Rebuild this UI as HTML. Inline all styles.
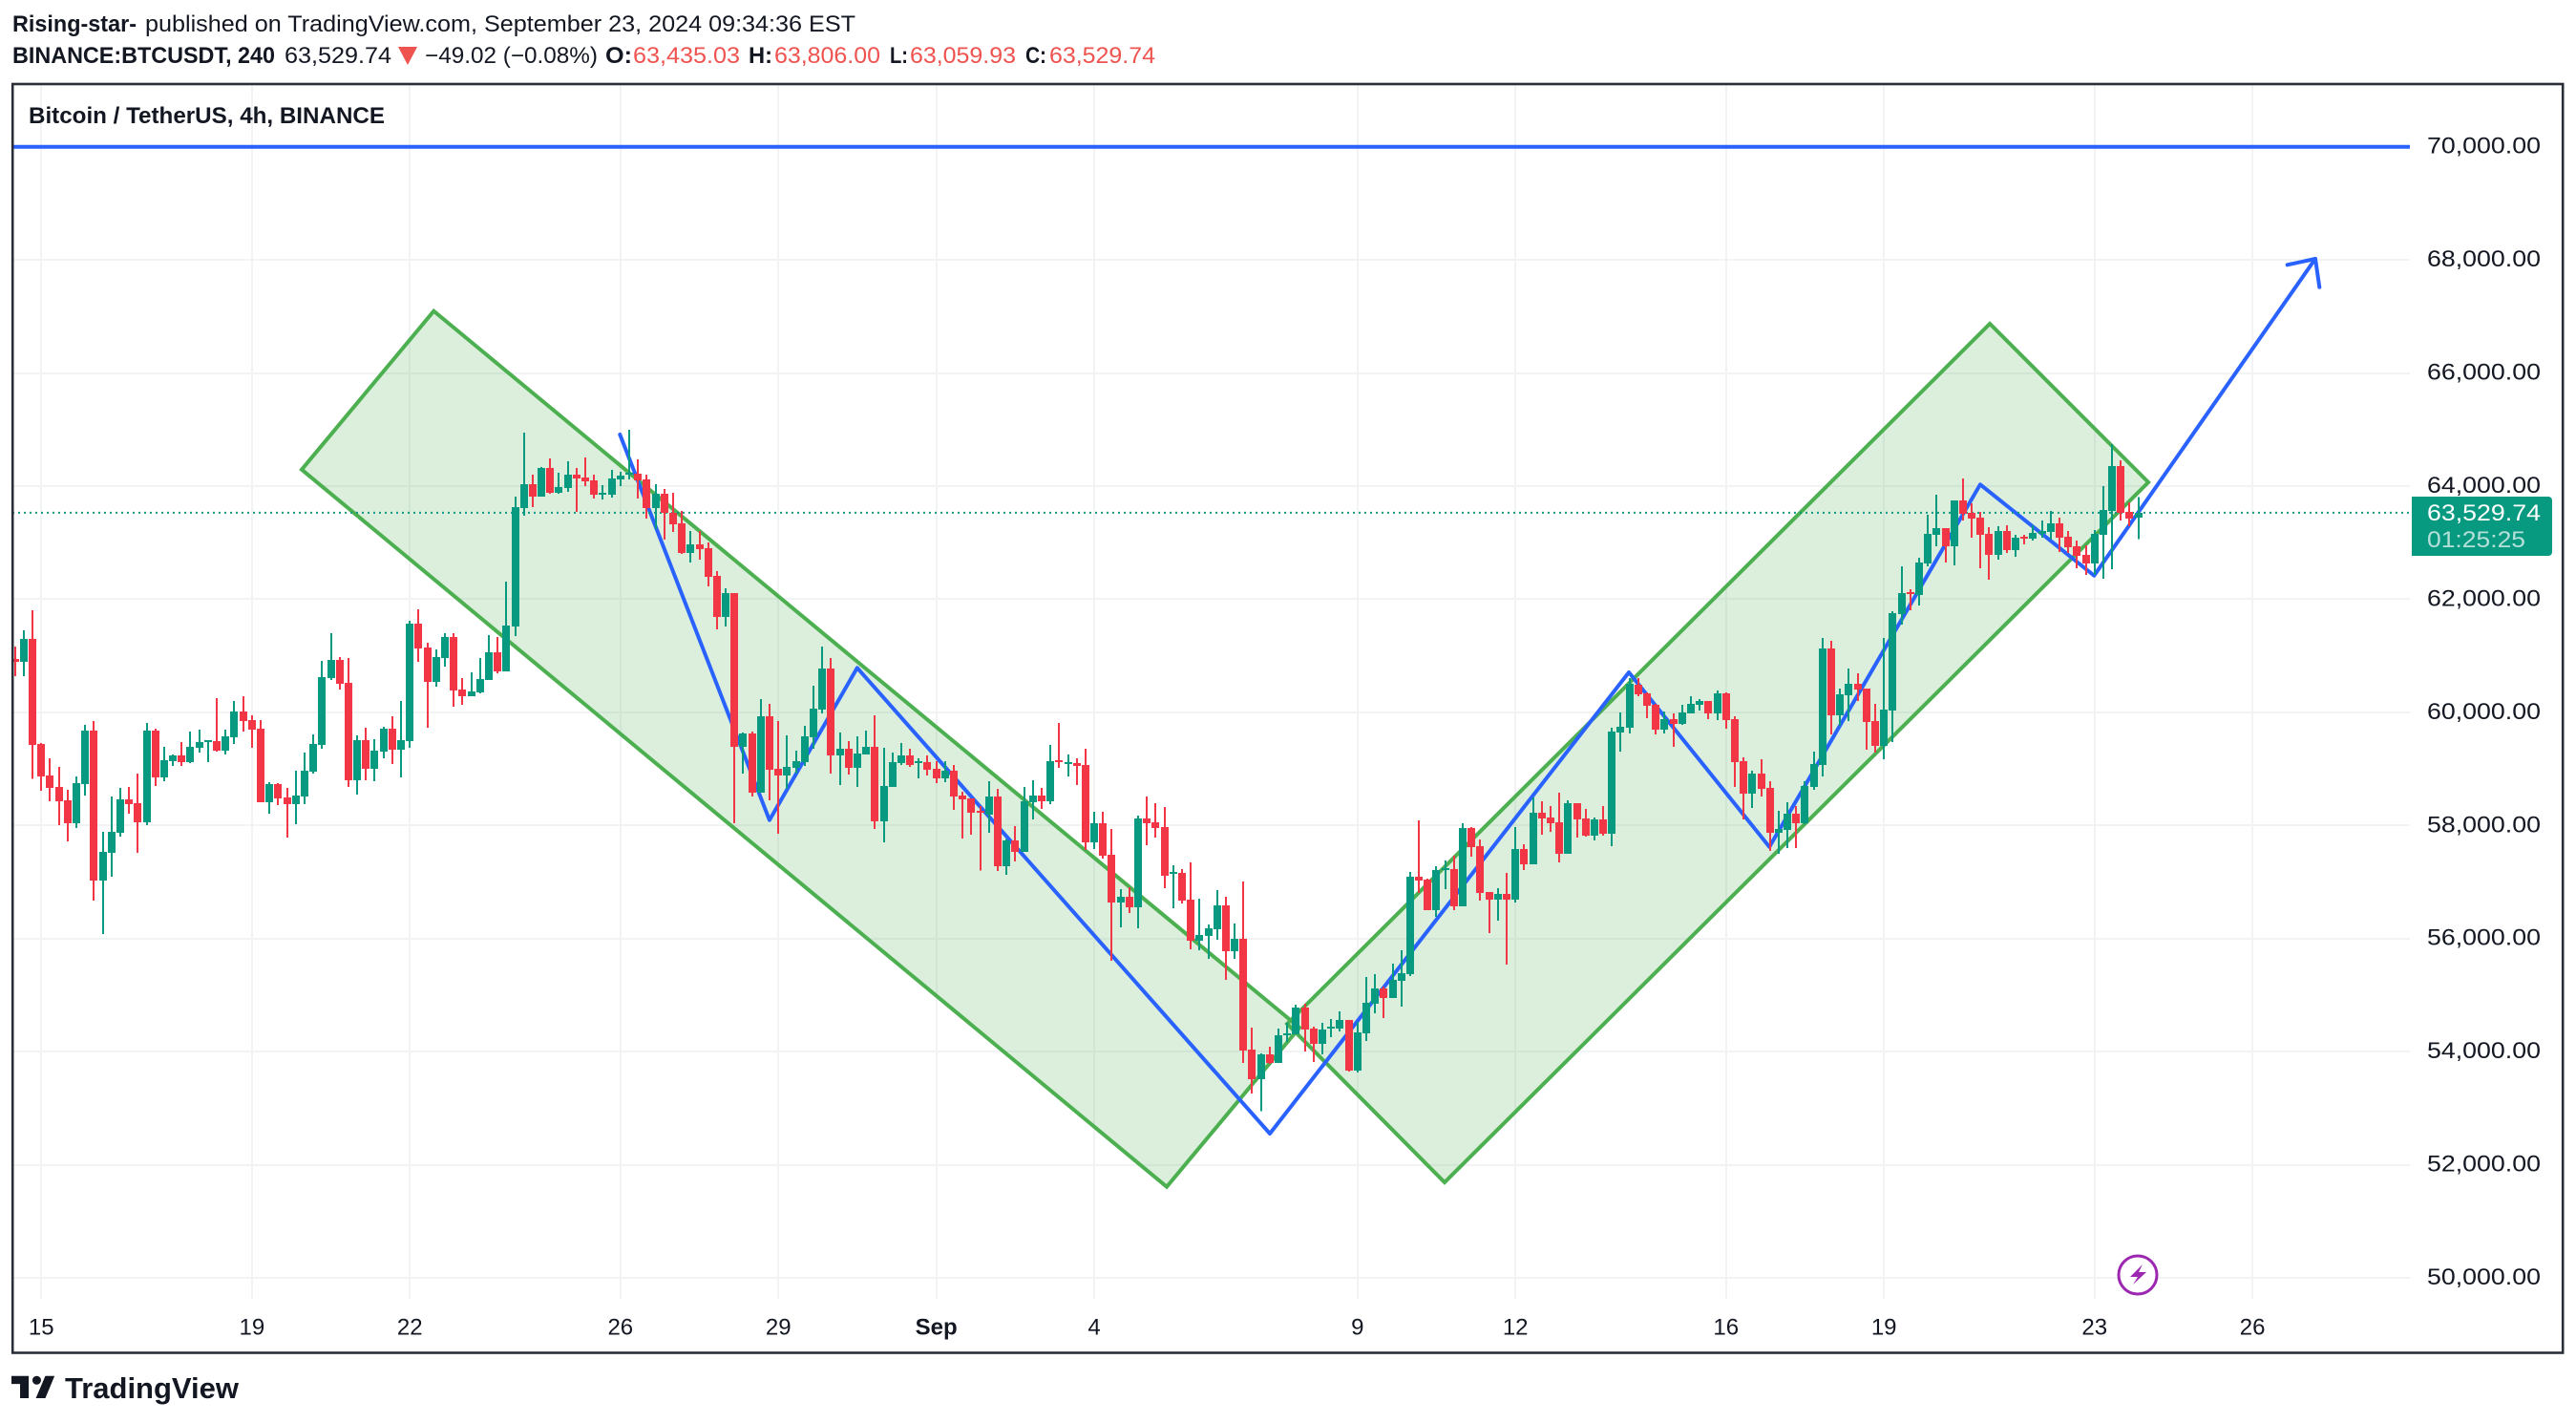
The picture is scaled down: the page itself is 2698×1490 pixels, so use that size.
<!DOCTYPE html>
<html lang="en">
<head>
<meta charset="utf-8">
<title>BTCUSDT 4h chart</title>
<style>
html,body{margin:0;padding:0;background:#fff;}
svg{display:block;}
text{font-family:"Liberation Sans",Arial,sans-serif;}
</style>
</head>
<body>
<svg id="chart" xmlns="http://www.w3.org/2000/svg" width="2698" height="1490" viewBox="0 0 2698 1490">
  <rect x="0" y="0" width="2698" height="1490" fill="#ffffff"/>
  <g font-size="24" fill="#131722">
    <text x="13" y="33" font-weight="bold" textLength="130" lengthAdjust="spacingAndGlyphs">Rising-star-</text>
    <text x="152" y="33" textLength="744" lengthAdjust="spacingAndGlyphs">published on TradingView.com, September 23, 2024 09:34:36 EST</text>
    <text x="13" y="66" font-weight="bold" textLength="275" lengthAdjust="spacingAndGlyphs">BINANCE:BTCUSDT, 240</text>
    <text x="298" y="66" textLength="112" lengthAdjust="spacingAndGlyphs">63,529.74</text>
    <polygon points="417,49 437,49 427,68" fill="#EF5350"/>
    <text x="445" y="66" textLength="181" lengthAdjust="spacingAndGlyphs">−49.02 (−0.08%)</text>
    <text x="634" y="66" font-weight="bold" textLength="28" lengthAdjust="spacingAndGlyphs">O:</text>
    <text x="663" y="66" fill="#EF5350" textLength="112" lengthAdjust="spacingAndGlyphs">63,435.03</text>
    <text x="784" y="66" font-weight="bold" textLength="25" lengthAdjust="spacingAndGlyphs">H:</text>
    <text x="811" y="66" fill="#EF5350" textLength="111" lengthAdjust="spacingAndGlyphs">63,806.00</text>
    <text x="932" y="66" font-weight="bold" textLength="19" lengthAdjust="spacingAndGlyphs">L:</text>
    <text x="953" y="66" fill="#EF5350" textLength="111" lengthAdjust="spacingAndGlyphs">63,059.93</text>
    <text x="1074" y="66" font-weight="bold" textLength="22" lengthAdjust="spacingAndGlyphs">C:</text>
    <text x="1099" y="66" fill="#EF5350" textLength="111" lengthAdjust="spacingAndGlyphs">63,529.74</text>
  </g>
  <defs>
    <clipPath id="pane-clip"><rect x="13" y="88" width="2511" height="1272"/></clipPath>
  </defs>
  <g id="grid" shape-rendering="crispEdges"></g>
  <g id="drawings" clip-path="url(#pane-clip)"></g>
  <g id="candles" clip-path="url(#pane-clip)" shape-rendering="crispEdges"></g>
  <g id="x-axis" font-size="24" fill="#131722" text-anchor="middle"></g>
  <g id="y-axis" font-size="24" fill="#131722"></g>
  <path id="price-tag" d="M2526 520H2669a4 4 0 0 1 4 4V578a4 4 0 0 1 -4 4H2526Z" fill="#089981"/>
  <text x="2542" y="545" font-size="24" fill="#ffffff" textLength="119" lengthAdjust="spacingAndGlyphs">63,529.74</text>
  <text x="2542" y="573" font-size="24" fill="#b5e0d9" textLength="103" lengthAdjust="spacingAndGlyphs">01:25:25</text>
  <text x="30" y="129" font-size="24" font-weight="bold" fill="#131722" textLength="373" lengthAdjust="spacingAndGlyphs">Bitcoin / TetherUS, 4h, BINANCE</text>
  <g>
    <ellipse cx="2239" cy="1335" rx="20" ry="20" fill="#ffffff" stroke="#9C27B0" stroke-width="3"/>
    <polygon points="2244,1324 2231,1337 2239,1337 2234,1345 2248,1332 2240,1332" fill="#9C27B0"/>
  </g>
  <rect x="13.2" y="88" width="2671" height="1328.5" fill="none" stroke="#2A2E39" stroke-width="2.6"/>
  <g fill="#131722">
    <g transform="translate(12,1433) scale(1.29)">
      <path d="M14 6H0v6.5h7V24h7Z"/>
      <circle cx="20.5" cy="9.5" r="3.5"/>
      <path d="M27.5 24H19.8L27.5 6H35Z"/>
    </g>
    <text x="68" y="1464" font-size="31" font-weight="bold" textLength="182" lengthAdjust="spacingAndGlyphs">TradingView</text>
  </g>
</svg>
<script>
const opens = [60943,60892,61298,59440,58883,58680,58444,58038,58731,59676,
57025,57515,57869,58461,58393,58055,59676,58849,59136,59237,
59119,59372,59474,59491,59322,59558,60014,59862,59710,58410,
58731,58494,58376,58511,58950,59423,60605,60926,60521,58798,
59508,59001,59305,59710,59339,59491,61568,61146,60538,60960,
61331,60403,60284,60352,60571,61061,60723,61518,63612,64034,
63814,64321,63882,63966,64203,64152,64101,63848,63848,64118,
64203,64220,64118,63612,63865,63527,63341,62818,62970,62902,
62413,61687,62109,59390,59626,58579,59930,59001,58883,59018,
59120,59559,60048,60775,59238,59356,59018,59255,59390,58073,
58681,59103,59238,59103,59120,59001,58833,58968,58529,58478,
58258,58191,58512,57279,57735,57532,58410,58529,58427,59153,
59086,59103,59069,57701,58039,57482,56637,56738,56553,58123,
58056,57971,57144,57161,56688,55962,56046,56164,56586,55776,
55995,54037,53513,53952,53800,54290,54307,54780,54408,54138,
54408,54408,54560,53665,54324,54847,55117,54949,55252,55371,
57093,57042,56502,57211,57228,56570,57954,57633,56823,56688,
56789,56688,57583,57312,58224,58140,58055,57498,58393,58123,
57819,58106,57853,59643,59727,60487,60335,60133,59694,59879,
59795,59981,60133,60200,59981,60335,59879,59136,58562,58917,
58663,57870,57920,58207,58039,58680,59069,61129,59947,60301,
60504,60420,59845,59406,60031,61737,62125,62074,62632,63138,
63257,62936,63746,63527,63442,63155,62784,63206,62868,63105,
63071,63155,63189,63341,63105,62936,62784,62632,63138,63560,
64354,63544,63435.03];
const highs = [61162,61450,61804,59457,59187,59035,58629,58866,59778,59845,
57886,58511,58663,58680,58916,59811,59710,59389,59254,59474,
59660,59693,59508,60251,59693,60200,60284,59947,59862,58765,
58748,58663,58967,59288,59609,60909,61399,60977,60960,59592,
59727,59524,59744,59930,60200,61618,61821,61230,61112,61399,
61399,60605,60707,60960,61365,61331,62311,63814,64946,64203,
64338,64490,64236,64439,64321,64507,64203,64017,64287,64253,
64996,64473,64203,64034,63949,63882,63561,63206,63206,63004,
62497,62193,62109,59643,59660,60234,60150,59846,59593,59322,
59761,60471,61163,60960,59643,59491,59576,59677,59947,59373,
59289,59457,59356,59187,59238,59137,59137,59069,58596,58478,
58343,58782,58647,57760,57988,58681,58799,58664,59424,59812,
59255,59187,59356,58241,58241,57937,56874,56907,58174,58512,
58393,58326,57296,57228,57346,56705,56249,56857,56738,56266,
57009,54425,53969,54087,54408,54509,54830,54847,54442,54509,
54577,54712,54560,54526,55320,55371,55151,55556,55793,57178,
58089,57059,57279,57380,57465,58039,57971,57752,56823,56890,
57160,57971,57667,58495,58427,58343,58579,58444,58393,58292,
58140,58343,59727,59997,60605,60605,60352,60149,60014,59981,
60133,60285,60234,60200,60386,60352,59930,59204,58967,59170,
58782,58258,58410,58343,58782,59305,61314,61264,60420,60774,
60690,60420,60149,61314,61787,62581,62176,62733,63493,63848,
63257,63746,64135,63696,63544,63273,63290,63307,63138,63138,
63307,63392,63560,63442,63206,63037,62953,63223,64000,64743,
64455,63712,63806];
const lows = [60639,60639,58821,58612,58427,58005,57718,57954,58528,56670,
56079,57093,57802,58207,57515,58005,58697,58781,59052,59052,
59102,59288,59119,59305,59254,59440,59660,59372,58410,58207,
58359,57785,58021,58376,58916,59356,60571,60403,58680,58545,
58798,58781,59187,59085,58849,59372,60892,59727,60453,60808,
60099,60132,60284,60335,60571,60690,60723,61349,63477,63629,
63814,63865,63865,63899,63544,64000,63781,63764,63797,64000,
64118,63781,63426,63240,63054,63189,62801,62649,62700,62227,
61467,61518,58039,58917,58512,58579,58444,57853,58647,58917,
59052,59356,59981,58917,58714,58900,58681,59255,57938,57701,
58681,59069,59035,58833,58883,58748,58765,58275,57769,57836,
57200,57870,57194,57127,57363,57532,58106,58292,58377,59018,
58866,58714,57566,57583,57414,55607,56198,56451,56181,57650,
57785,56890,56536,56620,55810,55793,55641,55979,55269,55641,
53800,53260,52950,53783,53800,54172,54307,54003,53817,53952,
54256,54357,53648,53631,54189,54678,54594,54949,54797,55337,
56806,56502,56384,56874,56502,56570,57448,56671,56097,56316,
55539,56637,57211,57312,57836,57887,57346,57498,57785,57802,
57735,57819,57633,59305,59626,60285,59896,59609,59626,59390,
59778,59981,60031,59879,59862,59710,58680,58106,58309,58511,
57549,57498,57599,57599,58022,58630,58866,59609,59761,59845,
60200,59339,59288,59170,59474,61551,61804,61889,62581,62936,
62649,62598,63392,63088,62547,62345,62699,62817,62750,62969,
63037,63088,63054,62834,62817,62547,62429,62429,62362,62530,
63392,63290,63059.93];
const closes = [60898,61298,59423,58866,58663,58427,58038,58748,59676,57025,
57532,57886,58461,58376,58055,59676,58849,59153,59237,59119,
59389,59474,59508,59322,59575,60014,59845,59693,58410,58731,
58477,58376,58528,58967,59440,60622,60926,60504,58798,59508,
59001,59322,59710,59339,59508,61568,61129,60538,60977,61331,
60386,60284,60369,60588,61061,60723,61534,63629,64034,63814,
64321,63882,63983,64203,64135,64085,63848,63882,64135,64186,
64236,64101,63612,63865,63527,63325,62818,62970,62886,62396,
61687,62109,59390,59626,58579,59930,58985,58883,59035,59137,
59576,60065,60775,59238,59356,59018,59272,59390,58073,58698,
59120,59238,59069,59137,58985,58833,58968,58512,58461,58225,
58225,58512,57279,57735,57532,58427,58529,58427,59136,59120,
59120,59052,57701,58039,57465,56637,56738,56553,58123,58039,
57954,57110,57178,56671,55962,56063,56181,56586,55776,55995,
54020,53513,53952,53800,54290,54324,54780,54391,54138,54391,
54442,54560,53665,54341,54864,55117,54949,55269,55388,57093,
57026,56502,57211,57245,56570,57954,57617,56806,56688,56789,
56688,57583,57312,58224,58123,58039,57498,58393,58106,57819,
58106,57853,59660,59744,60504,60318,60116,59694,59879,59795,
59997,60149,60200,59981,60335,59862,59119,58562,58917,58646,
57870,57937,58207,58039,58697,59086,61129,59947,60318,60504,
60403,59829,59406,60048,61754,62108,62091,62649,63155,63257,
62936,63746,63510,63425,63138,62784,63206,62868,63088,63071,
63172,63206,63341,63088,62919,62767,62632,63155,63577,64354,
63527,63425,63529.74];
const priceTicks = [50000,52000,54000,56000,58000,60000,62000,64000,66000,68000,70000];
const priceTickLabels = ["50,000.00","52,000.00","54,000.00","56,000.00","58,000.00","60,000.00","62,000.00","64,000.00","66,000.00","68,000.00","70,000.00"];
const timeTickBars = [3,27,45,69,87,105,123,153,171,195,213,237,255];
const timeTickLabels = ["15","19","22","26","29","Sep","4","9","12","16","19","23","26"];
const lastPrice = 63529.74;
const resistancePrice = 70000;
const descendingChannelBars = [32.68,47.73,146.39,131.26];
const descendingChannelPrices = [64292,67095,54424,51609];
const ascendingChannelBars = [144.98,225.07,243.13,162.93];
const ascendingChannelPrices = [54492,66871,64067,51688];
const zigzagBars = [68.94,85.99,95.99,143.01,183.93,199.95,223.97,236.95,262.16];
const zigzagPrices = [64912,58094,60786,52550,60707,57621,64028,62417,68019];
const arrowBarbBars = [258.98,262.16,262.63];
const arrowBarbPrices = [67913,68019,67517];

const SVG_NS = "http://www.w3.org/2000/svg";
function xScale(bar){ return 15.7 + 9.19 * bar; }
function yScale(price){ return 153.7 + (70000 - price) * 0.059215; }
function make(tag, parent, attrs){
  const el = document.createElementNS(SVG_NS, tag);
  for (const k in attrs) el.setAttribute(k, attrs[k]);
  parent.appendChild(el);
  return el;
}
function pointList(bars, prices){
  return bars.map(function(b, i){ return xScale(b).toFixed(1) + "," + yScale(prices[i]).toFixed(1); }).join(" ");
}

const gridG = document.getElementById("grid");
const xAxisG = document.getElementById("x-axis");
const yAxisG = document.getElementById("y-axis");
const drawG = document.getElementById("drawings");
const candleG = document.getElementById("candles");

priceTicks.forEach(function(p, i){
  const y = Math.round(yScale(p));
  const line = make("rect", gridG, {x: 14, y: y - 1, width: 2510, height: 2, fill: "#f2f3f5"});
  
  
  const label = make("text", yAxisG, {x: 2542, y: yScale(p) + 7, textLength: 119, lengthAdjust: "spacingAndGlyphs"});
  label.textContent = priceTickLabels[i];
  
  
});

timeTickBars.forEach(function(b, i){
  const x = Math.round(xScale(b));
  const line = make("rect", gridG, {x: x - 1, y: 89, width: 2, height: 1271, fill: "#f2f3f5"});
  
  
  const label = make("text", xAxisG, {x: xScale(b), y: 1397.5});
  label.textContent = timeTickLabels[i];
  if (timeTickLabels[i] === "Sep") label.setAttribute("font-weight", "bold");
  
  
});

const GREEN = "#4CAF50";
const BLUE = "#2962FF";
const channelOne = make("polygon", drawG, {points: pointList(descendingChannelBars, descendingChannelPrices), fill: "rgba(76,175,80,0.2)", stroke: GREEN, "stroke-width": 4, "stroke-linejoin": "miter"});


const channelTwo = make("polygon", drawG, {points: pointList(ascendingChannelBars, ascendingChannelPrices), fill: "rgba(76,175,80,0.2)", stroke: GREEN, "stroke-width": 4, "stroke-linejoin": "miter"});


const zigzag = make("polyline", drawG, {points: pointList(zigzagBars, zigzagPrices), fill: "none", stroke: BLUE, "stroke-width": 4, "stroke-linejoin": "round", "stroke-linecap": "round"});


const arrowHead = make("polyline", drawG, {points: pointList(arrowBarbBars, arrowBarbPrices), fill: "none", stroke: BLUE, "stroke-width": 4, "stroke-linejoin": "round", "stroke-linecap": "round"});


const resistance = make("line", drawG, {x1: 13, x2: 2524, y1: yScale(resistancePrice), y2: yScale(resistancePrice), stroke: BLUE, "stroke-width": 4});


const lastLine = make("line", drawG, {x1: 13, x2: 2524, y1: yScale(lastPrice), y2: yScale(lastPrice), stroke: "#089981", "stroke-width": 2, "stroke-dasharray": "2 4"});



opens.forEach(function(o, i){
  const c = closes[i];
  const color = c >= o ? "#089981" : "#F23645";
  const left = Math.round(xScale(i) - 4);
  const top = Math.round(yScale(Math.max(o, c)));
  const bottom = Math.round(yScale(Math.min(o, c)));
  const group = make("g", candleG, {});
  
  
  const wickTop = yScale(highs[i]);
  const wickBottom = yScale(lows[i]);
  const wick = make("rect", group, {x: left + 3, y: wickTop, width: 2, height: Math.max(wickBottom - wickTop, 1), fill: color});
  
  
  const body = make("rect", group, {x: left, y: top, width: 8, height: Math.max(bottom - top, 2), fill: color});
  
  
});
</script>
</body>
</html>
